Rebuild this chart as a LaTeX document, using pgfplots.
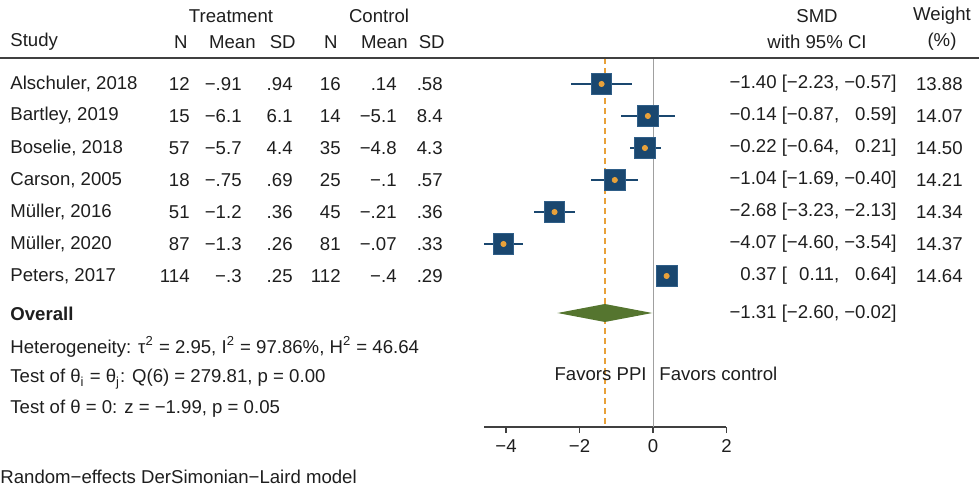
\documentclass[border=0pt]{standalone}
\usepackage{pgfplots}
\pgfplotsset{compat=1.18}
\usepackage{pgfplotstable}
\usepackage{fontspec}
\setmainfont{Liberation Sans}

\definecolor{navy}{HTML}{1A476F}
\definecolor{navyedge}{HTML}{2F5E88}
\definecolor{dotorange}{HTML}{E8A13A}
\definecolor{diamgreen}{HTML}{55752F}
\definecolor{zerogray}{HTML}{A0A0A0}
\definecolor{txt}{HTML}{1E1E1E}

% y is minus the row's pixel position, so rows line up with the text columns
\pgfplotstableread{
row es lo hi w
-84 -1.40 -2.23 -0.57 13.88
-116 -0.14 -0.87 0.59 14.07
-148 -0.22 -0.64 0.21 14.50
-180 -1.04 -1.69 -0.40 14.21
-212 -2.68 -3.23 -2.13 14.34
-244 -4.07 -4.60 -3.54 14.37
-276 0.37 0.11 0.64 14.64
}\studies

\newlength\ciw
\newcommand{\ci}[3]{#1 [\makebox[\ciw][r]{#2}, \makebox[\ciw][r]{#3}]}

\begin{document}%
\fontsize{9.3}{11}\selectfont\settowidth\ciw{−0.00}%
\begin{tikzpicture}[font=\fontsize{9.3}{11}\selectfont, text=txt]

\begin{axis}[
  at={(242pt,-213.5pt)}, anchor=south west,
  width=121.25pt, height=184.5pt, scale only axis,
  xmin=-4.6, xmax=2, ymin=-427, ymax=-58,
  axis x line=bottom, axis y line=none,
  axis line style={-, draw=txt!85, line width=0.6pt},
  xtick={-4,-2,0,2}, xticklabels={−4,−2,0,2},
  tick align=outside, major tick length=3pt,
  tick style={draw=txt!85, line width=0.6pt},
  xticklabel style={font=\fontsize{9.3}{11}\selectfont, text=txt},
  clip=false,
]

% reference lines: no effect and overall estimate
\addplot[zerogray, line width=0.5pt] coordinates {(0,-58) (0,-427)};
\addplot[dotorange, line width=0.8pt, dash pattern=on 3pt off 2pt]
  coordinates {(-1.31,-58) (-1.31,-427)};

% confidence intervals
\addplot[only marks, mark=none,
  error bars/.cd, x dir=both, x explicit, error mark=none,
  error bar style={navy, line width=0.7pt}]
  table[x=es, y=row,
    x error plus expr=\thisrow{hi}-\thisrow{es},
    x error minus expr=\thisrow{es}-\thisrow{lo}] {\studies};

% study weights as squares
\addplot[scatter, only marks, mark=square*,
  scatter/use mapped color={draw=navyedge, fill=navy},
  visualization depends on={5.2*sqrt(\thisrow{w}/14.64) \as \msz},
  scatter/@pre marker code/.append style={/tikz/mark size=\msz}]
  table[x=es, y=row] {\studies};

\addplot[only marks, mark=*, mark size=1.3pt, dotorange]
  table[x=es, y=row] {\studies};

% overall effect
\addplot[fill=diamgreen, draw=none]
  coordinates {(-2.60,-313) (-1.31,-304) (-0.02,-313) (-1.31,-322)} -- cycle;

\end{axis}

\begin{scope}[x=0.5pt, y=-0.5pt, every node/.style={inner sep=0pt}]
\draw[txt!85, line width=0.8pt] (0,58) -- (979,58);

\node at (231,16) {Treatment};
\node at (379,16) {Control};
\node at (817,16) {SMD};
\node at (942,16) {Weight};

\node[anchor=west] at (10,42) {Study};
\node[anchor=east] at (188,42) {N};
\node[anchor=east] at (256,42) {Mean};
\node[anchor=east] at (296,42) {SD};
\node[anchor=east] at (338,42) {N};
\node[anchor=east] at (408,42) {Mean};
\node[anchor=east] at (445,42) {SD};
\node at (817,42) {with 95\% CI};
\node at (942,42) {(\%)};

\foreach \y/\st/\nt/\mt/\sdt/\nc/\mc/\sdc/\smd/\lo/\hi/\wt in {
  84/{Alschuler, 2018}/12/−.91/.94/16/.14/.58/−1.40/−2.23/−0.57/13.88,
  116/{Bartley, 2019}/15/−6.1/6.1/14/−5.1/8.4/−0.14/−0.87/0.59/14.07,
  148/{Boselie, 2018}/57/−5.7/4.4/35/−4.8/4.3/−0.22/−0.64/0.21/14.50,
  180/{Carson, 2005}/18/−.75/.69/25/−.1/.57/−1.04/−1.69/−0.40/14.21,
  212/{Müller, 2016}/51/−1.2/.36/45/−.21/.36/−2.68/−3.23/−2.13/14.34,
  244/{Müller, 2020}/87/−1.3/.26/81/−.07/.33/−4.07/−4.60/−3.54/14.37,
  276/{Peters, 2017}/114/−.3/.25/112/−.4/.29/0.37/0.11/0.64/14.64}{
  \node[anchor=west] at (10,\y) {\st};
  \node[anchor=east] at (190,\y) {\nt};
  \node[anchor=east] at (242,\y) {\mt};
  \node[anchor=east] at (293,\y) {\sdt};
  \node[anchor=east] at (341,\y) {\nc};
  \node[anchor=east] at (397,\y) {\mc};
  \node[anchor=east] at (443,\y) {\sdc};
  \node[anchor=east] at (897,\y) {\ci{\smd}{\lo}{\hi}};
  \node[anchor=east] at (963,\y) {\wt};
}

\node[anchor=west, font=\fontsize{9.3}{11}\selectfont\bfseries] at (10,314) {Overall};
\node[anchor=east] at (897,314) {\ci{−1.31}{−2.60}{−0.02}};

\node[anchor=west] at (10,347)
  {Heterogeneity: τ\textsuperscript{2} = 2.95, I\textsuperscript{2} = 97.86\%, H\textsuperscript{2} = 46.64};
\node[anchor=west] at (10,379)
  {Test of θ\textsubscript{i} = θ\textsubscript{j}: Q(6) = 279.81, p = 0.00};
\node[anchor=west] at (10,409) {Test of θ = 0: z = −1.99, p = 0.05};

\node[anchor=east] at (647,374) {Favors PPI};
\node[anchor=west] at (659,374) {Favors control};

\node[anchor=west] at (0,477) {Random−effects DerSimonian−Laird model};

\pgfresetboundingbox
\path (0,0) rectangle (979,491);
\end{scope}
\end{tikzpicture}%
\end{document}
